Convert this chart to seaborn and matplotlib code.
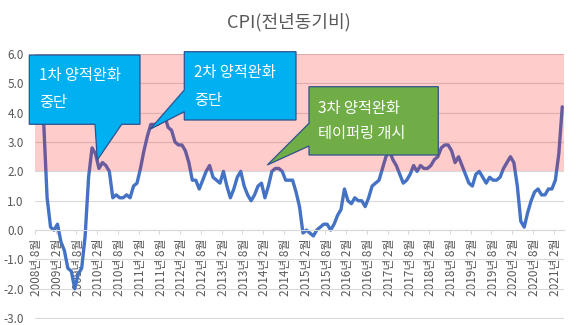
import numpy as np
import pandas as pd
import matplotlib
matplotlib.use("Agg")
import matplotlib.pyplot as plt
import matplotlib.transforms as mtrans
import seaborn as sns
from matplotlib.patches import Polygon
from matplotlib.ticker import FormatStrFormatter

# ---- data (US CPI, YoY %, monthly from 2008-08) ----
start_month = "2008-08-01"
cpi = [
    5.4, 4.9, 3.7, 1.1, 0.1,
    0.0, 0.2, -0.4, -0.7, -1.3, -1.4, -2.0, -1.5, -1.3, -0.2, 1.8, 2.8,
    2.6, 2.1, 2.3, 2.2, 2.0, 1.1, 1.2, 1.1, 1.1, 1.2, 1.1, 1.5,
    1.6, 2.1, 2.7, 3.2, 3.6, 3.6, 3.6, 3.8, 3.9, 3.5, 3.4, 3.0,
    2.9, 2.9, 2.7, 2.3, 1.7, 1.7, 1.4, 1.7, 2.0, 2.2, 1.8, 1.7,
    1.6, 2.0, 1.5, 1.1, 1.4, 1.8, 2.0, 1.5, 1.2, 1.0, 1.2, 1.5,
    1.6, 1.1, 1.5, 2.0, 2.1, 2.1, 2.0, 1.7, 1.7, 1.7, 1.3, 0.8,
    -0.1, 0.0, -0.1, -0.2, 0.0, 0.1, 0.2, 0.2, 0.0, 0.2, 0.5, 0.7,
    1.4, 1.0, 0.9, 1.1, 1.0, 1.0, 0.8, 1.1, 1.5, 1.6, 1.7, 2.1,
    2.5, 2.7, 2.4, 2.2, 1.9, 1.6, 1.7, 1.9, 2.2, 2.0, 2.2, 2.1,
    2.1, 2.2, 2.4, 2.5, 2.8, 2.9, 2.9, 2.7, 2.3, 2.5, 2.2, 1.9,
    1.6, 1.5, 1.9, 2.0, 1.8, 1.6, 1.8, 1.7, 1.7, 1.8, 2.1, 2.3,
    2.5, 2.3, 1.5, 0.3, 0.1, 0.6, 1.0, 1.3, 1.4, 1.2, 1.2, 1.4,
    1.4, 1.7, 2.6, 4.2,
]
title = "CPI(전년동기비)"
band = (2.0, 6.0)
label_step = 6
callout_texts = ["1차 양적완화\n중단", "2차 양적완화\n중단", "3차 양적완화\n테이퍼링 개시"]

months = pd.date_range(start_month, periods=len(cpi), freq="MS")
df = pd.DataFrame({"idx": np.arange(len(cpi)), "cpi": cpi})

sns.set_theme(style="white")
plt.rcParams["font.family"] = ["Noto Sans CJK KR", "DejaVu Sans"]

W, H = 577, 325
fig = plt.figure(figsize=(W / 100, H / 100), dpi=100)
fig.patch.set_facecolor("white")
ax = fig.add_axes([35 / W, 1 - 319 / H, (564 - 35) / W, (319 - 54) / H])
ax.set_facecolor("white")

sns.lineplot(data=df, x="idx", y="cpi", ax=ax, color="#4472C4", lw=2.4, zorder=2)
ax.axhspan(band[0], band[1], color="#FF0000", alpha=0.2, lw=0, zorder=3)

ax.set_xlim(-0.5, len(cpi) - 0.5)
ax.set_ylim(-3.03, 6)
ax.set_yticks(np.arange(-3, 7, 1))
ax.yaxis.set_major_formatter(FormatStrFormatter("%.1f"))
ax.grid(axis="y", color="#D9D9D9", lw=0.8)
ax.grid(axis="x", visible=False)
ax.set_axisbelow(True)
for s in ["left", "right", "top"]:
    ax.spines[s].set_visible(False)
ax.spines["bottom"].set_position(("data", 0))
ax.spines["bottom"].set_color("#D9D9D9")
ax.spines["bottom"].set_linewidth(0.8)
ax.set_xlabel("")
ax.set_ylabel("")

label_idx = list(range(0, len(cpi), label_step))
ax.set_xticks(label_idx)
ax.set_xticklabels([f"{d.year}년 {d.month}월" for d in months[label_idx]],
                   rotation=90, fontsize=8.5, color="#595959")
shift = mtrans.ScaledTranslation(2 / 100, 0, fig.dpi_scale_trans)
for lab in ax.get_xticklabels():
    lab.set_transform(lab.get_transform() + shift)
ax.set_xticks(np.arange(-0.5, len(cpi) - 2, label_step), minor=True)
ax.tick_params(axis="x", which="major", length=0, pad=6)
ax.tick_params(axis="x", which="minor", length=3, color="#D9D9D9", width=0.8,
               direction="out", bottom=True)
ax.tick_params(axis="y", length=0, labelsize=8.5, labelcolor="#595959", pad=8)

fig.text(288.5 / W, 1 - 22 / H, title, ha="center", va="center",
         fontsize=13, color="#595959")


def P(x, y):
    return (x / W, 1 - y / H)


shapes = [
    ([(29.3, 55), (140, 55), (140, 124.3), (121.7, 124.3), (97.3, 160),
      (95, 124.3), (29.3, 124.3)], "#00B0F0", (39, 75, 102)),
    ([(184.3, 51.7), (296, 51.7), (296, 120), (184.3, 120), (184.3, 111.7),
      (150, 129.3), (184.3, 90)], "#00B0F0", (194, 72, 100)),
    ([(309, 86.7), (438.3, 86.7), (438.3, 155), (309, 155), (309, 146),
      (267.3, 165), (309, 123.3)], "#70AD47", (318, 108.5, 133)),
]
for (pts, fc, (tx, ty1, ty2)), txt in zip(shapes, callout_texts):
    poly = Polygon([P(*p) for p in pts], closed=True, facecolor=fc,
                   edgecolor="#2F528F", lw=0.9, transform=fig.transFigure,
                   zorder=5)
    fig.patches.append(poly)
    l1, l2 = txt.split("\n")
    fig.text(*P(tx, ty1), l1, ha="left", va="center", fontsize=11,
             color="white", zorder=6)
    fig.text(*P(tx, ty2), l2, ha="left", va="center", fontsize=11,
             color="white", zorder=6)

fig.savefig("out.png", dpi=100)
